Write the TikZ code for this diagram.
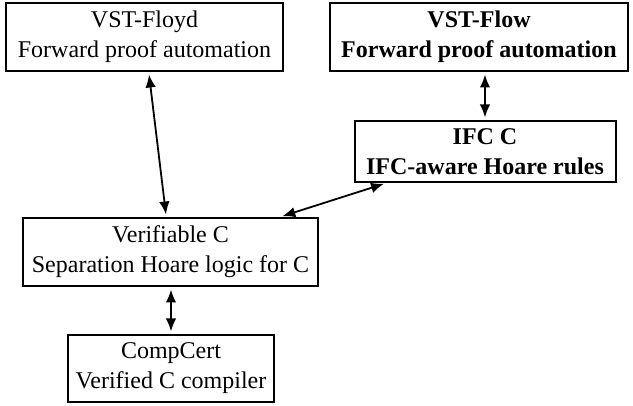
\documentclass[tikz,border=0pt]{standalone}
\usepackage{fontspec}
\setmainfont{Liberation Serif}
\usetikzlibrary{arrows.meta}
\begin{document}
\begin{tikzpicture}[x=1pt,y=-1pt,
  box/.style={draw, line width=2pt, align=center, inner sep=0pt, font=\fontsize{24}{30}\selectfont},
  bbox/.style={box, font=\fontsize{24}{30}\selectfont\bfseries},
  link/.style={{Latex[length=13pt,width=10.5pt]}-{Latex[length=13pt,width=10.5pt]}, line width=1.8pt, shorten >=2.5pt, shorten <=2.5pt}]
\useasboundingbox (0,0) rectangle (633,406);
\node[box, minimum width=277pt, minimum height=68pt] (floyd) at (144.5,37) {VST-Floyd\\Forward proof automation};
\node[bbox, minimum width=298pt, minimum height=68pt] (flow) at (479,37) {VST-Flow\\Forward proof automation};
\node[bbox, minimum width=261pt, minimum height=61pt] (ifc) at (485,151.5) {IFC C\\IFC-aware Hoare rules};
\node[box, minimum width=295pt, minimum height=68pt] (vc) at (170.5,252) {Verifiable C\\Separation Hoare logic for C};
\node[box, minimum width=206pt, minimum height=67pt] (cc) at (171,368.5) {CompCert\\Verified C compiler};
\draw[link] (floyd) -- (vc);
\draw[link] (flow.south -| ifc.north) -- (ifc.north);
\draw[link] (vc) -- (ifc);
\draw[link] (vc.south -| cc.north) -- (cc.north);
\end{tikzpicture}
\end{document}
